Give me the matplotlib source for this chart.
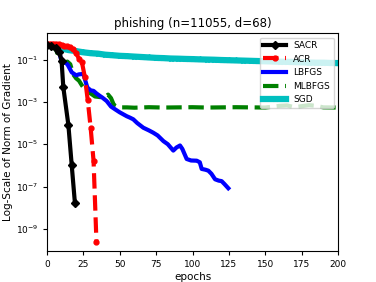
import numpy as np
import matplotlib
matplotlib.use("Agg")
import matplotlib.pyplot as plt

# du lieu doc tu hinh
sacr_x = [0, 3, 6, 8.5, 10, 11.2, 14.7, 17, 19.2]
sacr_y = [0.5, 0.45, 0.35, 0.22, 0.09, 5e-3, 8e-5, 1e-6, 1.6e-8]

acr_x = [0, 2, 4, 6, 8, 10, 12, 14, 16, 18, 20, 22, 24, 26, 28, 30, 32, 34]
acr_y = [0.55, 0.55, 0.56, 0.55, 0.52, 0.48, 0.45, 0.42, 0.38, 0.3, 0.2, 0.11, 0.075,
         0.015, 1.2e-3, 6e-5, 1.6e-6, 2.3e-10]

lbfgs_x = [0, 3, 6, 8, 10, 12, 14, 17, 20, 22, 25, 27.7, 30, 32, 34, 36.4, 38, 41, 44,
           46.7, 50, 54.8, 57, 59.3, 62, 66.2, 70, 73, 76, 80, 83, 86.8, 89, 91.4, 93,
           96, 99, 102.9, 105, 106.3, 109, 110.9, 113, 115.5, 118, 120, 122, 124.6]
lbfgs_y = [0.5, 0.55, 0.45, 0.3, 0.08, 0.075, 0.06, 0.025, 0.018, 0.02, 0.021, 4.8e-3,
           3.5e-3, 3.3e-3, 2.5e-3, 1.9e-3, 1.6e-3, 1.1e-3, 6e-4, 4.5e-4, 3.2e-4, 2.1e-4,
           1.8e-4, 1.5e-4, 1.0e-4, 6e-5, 4.5e-5, 3.5e-5, 2.6e-5, 1.4e-5, 1.0e-5, 5e-6,
           7e-6, 8.7e-6, 6e-6, 2e-6, 1.7e-6, 1.66e-6, 1.4e-6, 6.8e-7, 6.2e-7, 5.6e-7,
           4e-7, 2.2e-7, 1.9e-7, 1.8e-7, 1.3e-7, 8.3e-8]

mlbfgs_x = [0, 3, 6, 8, 10, 12, 14, 16, 18, 20, 22, 24, 26, 28, 30, 33, 36, 39, 42, 44,
            46, 48, 51, 55, 60, 70, 80, 90, 100, 110, 120, 130, 140, 150, 160, 165, 170,
            180, 185, 190, 200]
mlbfgs_y = [0.5, 0.45, 0.3, 0.15, 0.09, 0.07, 0.08, 0.06, 0.02, 0.013, 0.01, 6e-3, 4e-3,
            3e-3, 2.5e-3, 1.8e-3, 1.7e-3, 1.6e-3, 2.2e-3, 1.5e-3, 7e-4, 6e-4, 5.5e-4,
            5.5e-4, 5.3e-4, 5.6e-4, 5.4e-4, 5.5e-4, 5.6e-4, 5.4e-4, 5.5e-4, 5.6e-4,
            5.5e-4, 5.4e-4, 6.5e-4, 6.8e-4, 5.6e-4, 7e-4, 6.5e-4, 5.5e-4, 5.4e-4]

sgd_x = list(range(0, 201, 5))
sgd_y = [0.50, 0.40, 0.33, 0.28, 0.25, 0.22, 0.20, 0.19, 0.17, 0.16, 0.15, 0.145, 0.138,
         0.132, 0.126, 0.12, 0.117, 0.112, 0.11, 0.107, 0.105, 0.102, 0.1, 0.098, 0.095,
         0.093, 0.091, 0.089, 0.087, 0.085, 0.083, 0.081, 0.079, 0.078, 0.076, 0.074,
         0.072, 0.071, 0.071, 0.069, 0.068]

fig = plt.figure(figsize=(3.76, 2.82), dpi=100)
ax = fig.add_axes([0.125, 0.11, 0.774, 0.773])

ax.plot(sgd_x, sgd_y, color='c', lw=4.5, marker='*', ms=4, label='SGD', zorder=2)
ax.plot(mlbfgs_x, mlbfgs_y, color='g', lw=3, ls='--', label='MLBFGS', zorder=3)
ax.plot(lbfgs_x, lbfgs_y, color='b', lw=3, label='LBFGS', zorder=4)
ax.plot(acr_x, acr_y, color='r', lw=3, ls='--', marker='o', ms=3.5, label='ACR', zorder=5)
ax.plot(sacr_x, sacr_y, color='k', lw=3, marker='D', ms=4, label='SACR', zorder=6)

ax.set_yscale('log')
ax.set_xlim(0, 200)
ax.set_ylim(9e-11, 1.8)
ax.set_yticks([1e-1, 1e-3, 1e-5, 1e-7, 1e-9])
ax.minorticks_off()
ax.tick_params(labelsize=6.5, length=3)
ax.set_xlabel('epochs', fontsize=7.5, labelpad=2)
ax.set_ylabel('Log-Scale of Norm of Gradient', fontsize=7.5, labelpad=2)
ax.set_title('phishing (n=11055, d=68)', fontsize=8.5, pad=4)

h, l = ax.get_legend_handles_labels()
order = [4, 3, 2, 1, 0]
ax.legend([h[i] for i in order], [l[i] for i in order], loc='upper right',
          fontsize=6.5, handlelength=2.5)

fig.savefig('out.png', dpi=100)
